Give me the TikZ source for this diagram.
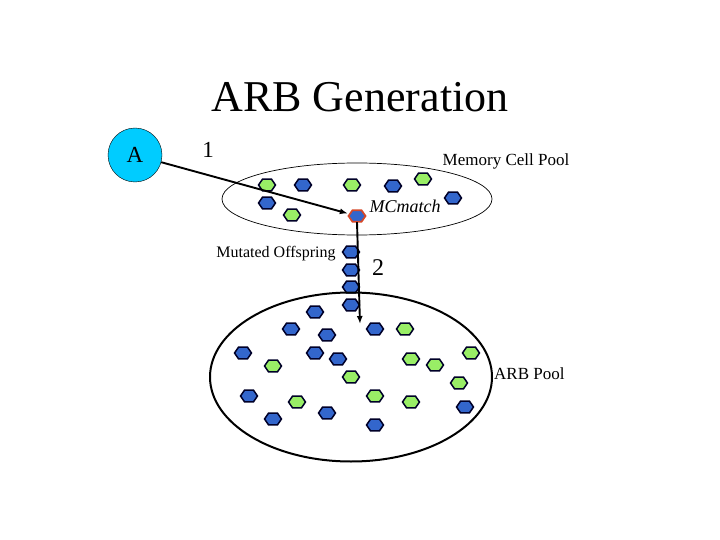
\documentclass[tikz,border=0pt]{standalone}
\usepackage{fontspec}
\setmainfont{Liberation Serif}
\usepackage{xcolor}
\usepackage{tikz}
\usetikzlibrary{shapes.geometric,arrows.meta,positioning}

\definecolor{cellblue}{RGB}{51,102,204}
\definecolor{cellgreen}{RGB}{153,238,102}
\definecolor{celledge}{RGB}{0,0,40}
\definecolor{matchred}{RGB}{214,72,40}
\definecolor{agcyan}{RGB}{0,204,255}

\tikzset{
    cell/.pic={\draw[#1] (-8.5,0) -- (-4.5,5.8) -- (4.5,5.8) -- (8.5,0) -- (4.5,-5.8) -- (-4.5,-5.8) -- cycle;}
}

\begin{document}
\begin{tikzpicture}[
    x=1pt, y=-1pt,
    bluecell/.style={fill=cellblue, draw=celledge, line width=1.5pt},
    greencell/.style={fill=cellgreen, draw=celledge, line width=1.5pt},
    matchcell/.style={fill=cellblue, draw=matchred, line width=1.7pt},
    antigen/.style={circle, draw, fill=agcyan, minimum size=54pt, inner sep=0pt, font=\fontsize{23}{26}\selectfont},
    pool/.style={ellipse, draw, inner sep=0pt},
    hexbox/.style={rectangle, minimum width=18pt, minimum height=12pt, inner sep=0pt},
    flow/.style={-{Latex[length=8pt,width=6pt]}, line width=1.9pt},
    lbl/.style={inner sep=1pt, font=\fontsize{17}{20}\selectfont}
]
    \useasboundingbox (0,0) rectangle (720,540);

    % Title
    \node[font=\fontsize{44}{48}\selectfont] (title) at (360,97) {ARB Generation};

    % Memory cell pool
    \node[pool, line width=0.7pt, minimum width=270pt, minimum height=72pt] (mempool) at (357,199) {};
    \node[lbl] (memlbl) at (506,161) {Memory Cell Pool};
    \foreach \x/\y/\kind in {267/185/greencell, 303/185/bluecell, 352/185/greencell, 393/186/bluecell,
        423/179/greencell, 453/198/bluecell, 267/203/bluecell, 292/215/greencell} {
        \pic at (\x,\y) {cell=\kind};
    }
    \node[hexbox] (mc) at (357,216) {};
    \pic at (mc) {cell=matchcell};
    \node[lbl, font=\fontsize{18}{20}\selectfont\itshape] (mclbl) at (405,206) {MCmatch};

    % Antigen
    \node[antigen] (ag) at (135,155) {A};
    \node[font=\fontsize{23}{26}\selectfont] (one) at (208,150) {1};

    % Mutated offspring
    \foreach \y in {252, 270, 287, 305} {
        \pic at (351,\y) {cell=bluecell};
    }
    \node[lbl, font=\fontsize{16}{19}\selectfont] (mutlbl) at (276,254) {Mutated Offspring};
    \node[font=\fontsize{24}{27}\selectfont] (two) at (378,268) {2};

    % ARB pool
    \node[pool, line width=2pt, minimum width=282pt, minimum height=169pt] (arbpool) at (351,377) {};
    \node[lbl, right=0pt of arbpool, yshift=3pt] (arblbl) {ARB Pool};
    \foreach \x/\y in {315/312, 291/329, 327/335, 375/329, 243/353, 315/353,
        338/359, 249/396, 465/407, 273/419, 327/413, 375/425} {
        \pic at (\x,\y) {cell=bluecell};
    }
    \foreach \x/\y in {405/329, 273/366, 411/359, 435/365, 471/353, 351/377,
        459/383, 297/402, 375/396, 411/402} {
        \pic at (\x,\y) {cell=greencell};
    }

    % Arrows
    \coordinate (drop) at (360,324);
    \draw[flow] (ag) -- (mc);
    \draw[flow] (mc.south) -- (drop);
\end{tikzpicture}
\end{document}
